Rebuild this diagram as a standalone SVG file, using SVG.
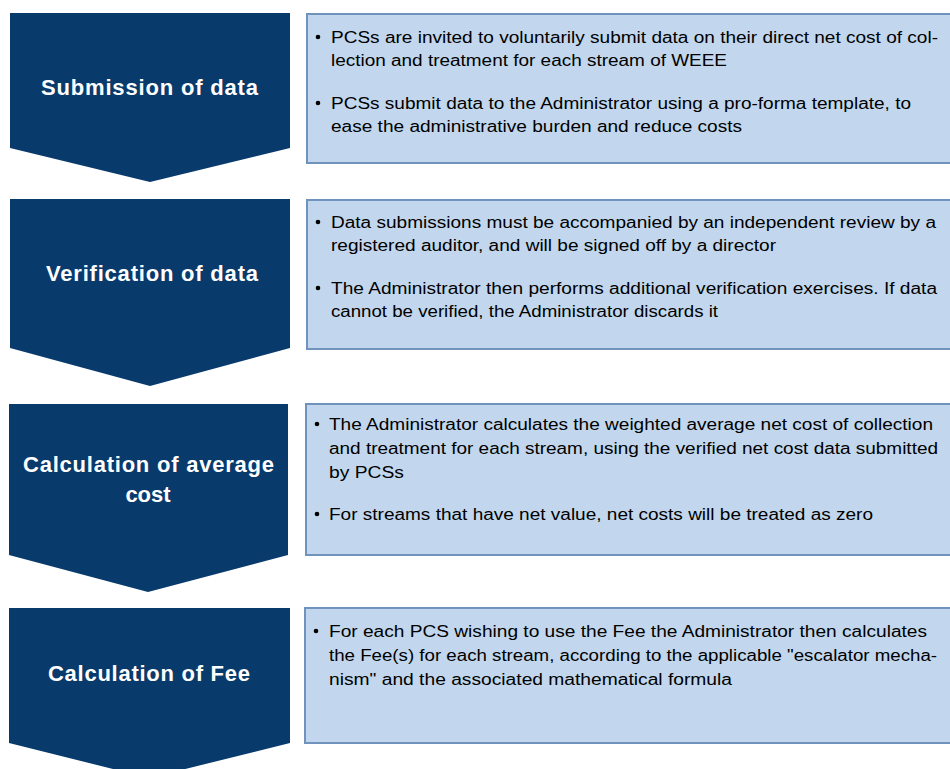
<svg xmlns="http://www.w3.org/2000/svg" width="950" height="769" viewBox="0 0 950 769">
  <style>
    .chev { fill: #093a6c; }
    .box { fill: #c2d7ed; stroke: #6f93bd; stroke-width: 2; }
    .lbl { font-family: "Liberation Sans", Arial, sans-serif; font-weight: bold; font-size: 22px; fill: #ffffff; }
    .txt { font-family: "Liberation Sans", Arial, sans-serif; font-size: 16px; fill: #000000; }
    .dot { fill: #000000; }
  </style>
  <rect width="950" height="769" fill="#ffffff"/>

  <g id="step-submission">
    <polygon class="chev" points="10,13 290,13 290,148 150,182 10,148"/>
    <text class="lbl" x="41" y="95" textLength="217" lengthAdjust="spacing">Submission of data</text>
  </g>
  <g id="detail-submission">
    <rect class="box" x="307" y="14" width="660" height="149"/>
    <circle class="dot" cx="318" cy="37" r="2.3"/>
    <text class="txt" x="331" y="43" textLength="607" lengthAdjust="spacingAndGlyphs">PCSs are invited to voluntarily submit data on their direct net cost of col-</text>
    <text class="txt" x="331" y="66" textLength="396" lengthAdjust="spacingAndGlyphs">lection and treatment for each stream of WEEE</text>
    <circle class="dot" cx="318" cy="103" r="2.3"/>
    <text class="txt" x="331" y="109" textLength="580" lengthAdjust="spacingAndGlyphs">PCSs submit data to the Administrator using a pro-forma template, to</text>
    <text class="txt" x="331" y="132" textLength="411" lengthAdjust="spacingAndGlyphs">ease the administrative burden and reduce costs</text>
  </g>

  <g id="step-verification">
    <polygon class="chev" points="10,199 290,199 290,348 150,386 10,348"/>
    <text class="lbl" x="46" y="281" textLength="212" lengthAdjust="spacing">Verification of data</text>
  </g>
  <g id="detail-verification">
    <rect class="box" x="307" y="200" width="660" height="149"/>
    <circle class="dot" cx="318" cy="222" r="2.3"/>
    <text class="txt" x="331" y="228" textLength="605" lengthAdjust="spacingAndGlyphs">Data submissions must be accompanied by an independent review by a</text>
    <text class="txt" x="331" y="251" textLength="445" lengthAdjust="spacingAndGlyphs">registered auditor, and will be signed off by a director</text>
    <circle class="dot" cx="318" cy="288" r="2.3"/>
    <text class="txt" x="331" y="294" textLength="606" lengthAdjust="spacingAndGlyphs">The Administrator then performs additional verification exercises.  If data</text>
    <text class="txt" x="331" y="317" textLength="387" lengthAdjust="spacingAndGlyphs">cannot be verified, the Administrator discards it</text>
  </g>

  <g id="step-average">
    <polygon class="chev" points="9,404 288,404 288,555 148,592 9,555"/>
    <text class="lbl" x="23" y="472" textLength="251" lengthAdjust="spacing">Calculation of average</text>
    <text class="lbl" x="148" y="502" text-anchor="middle">cost</text>
  </g>
  <g id="detail-average">
    <rect class="box" x="306" y="404" width="660" height="151"/>
    <circle class="dot" cx="317" cy="424" r="2.3"/>
    <text class="txt" x="329" y="430" textLength="604" lengthAdjust="spacingAndGlyphs">The Administrator calculates the weighted average net cost of collection</text>
    <text class="txt" x="329" y="454" textLength="609" lengthAdjust="spacingAndGlyphs">and treatment for each stream, using the verified net cost data submitted</text>
    <text class="txt" x="329" y="478" textLength="75" lengthAdjust="spacingAndGlyphs">by PCSs</text>
    <circle class="dot" cx="317" cy="514" r="2.3"/>
    <text class="txt" x="329" y="520" textLength="544" lengthAdjust="spacingAndGlyphs">For streams that have net value, net costs will be treated as zero</text>
  </g>

  <g id="step-fee">
    <polygon class="chev" points="9,608 290,608 290,743 149,778 9,743"/>
    <text class="lbl" x="48" y="681" textLength="202" lengthAdjust="spacing">Calculation of Fee</text>
  </g>
  <g id="detail-fee">
    <rect class="box" x="305" y="608" width="660" height="135"/>
    <circle class="dot" cx="316" cy="631" r="2.3"/>
    <text class="txt" x="329" y="637" textLength="598" lengthAdjust="spacingAndGlyphs">For each PCS wishing to use the Fee the Administrator then calculates</text>
    <text class="txt" x="329" y="661" textLength="608" lengthAdjust="spacingAndGlyphs">the Fee(s) for each stream, according to the applicable "escalator mecha-</text>
    <text class="txt" x="329" y="685" textLength="403" lengthAdjust="spacingAndGlyphs">nism" and the associated mathematical formula</text>
  </g>

  <g id="connectors"></g>
</svg>
